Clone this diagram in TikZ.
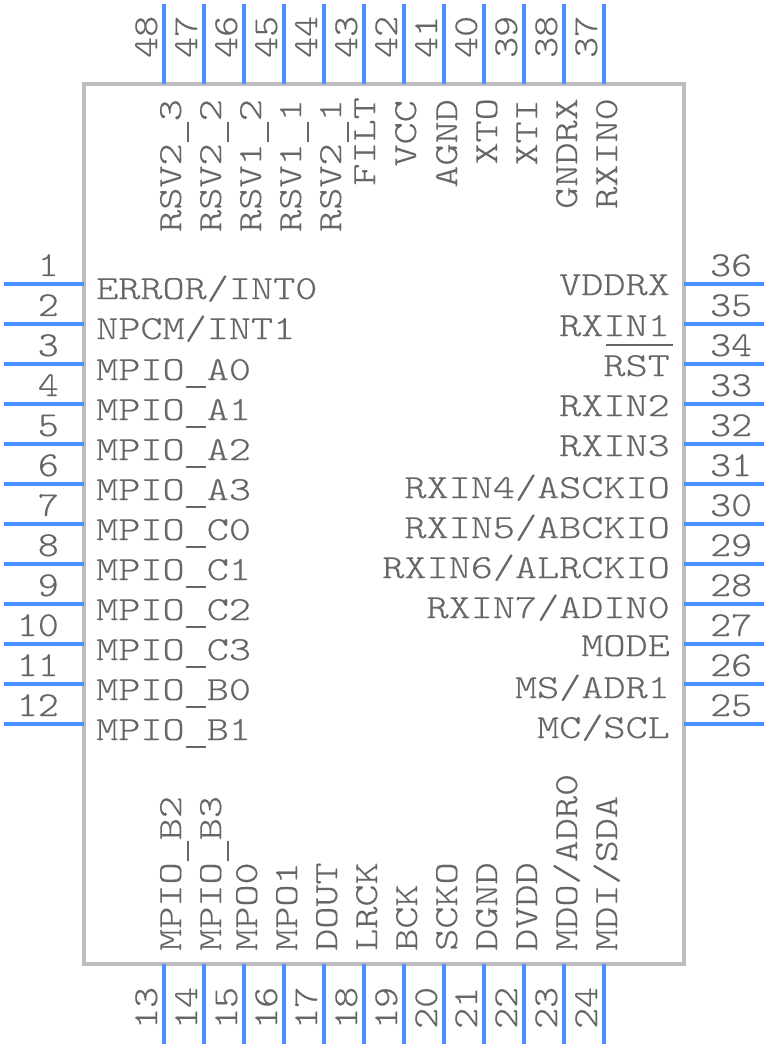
\documentclass[tikz,border=0pt]{standalone}
\usepackage{fontspec}
\newfontfamily\pinfont[FakeStretch=1.25,FakeBold=0.4]{Latin Modern Mono Light}
\newfontfamily\numfont[FakeStretch=1.14,FakeBold=0.4]{Latin Modern Mono Light}
\definecolor{bodygray}{HTML}{BDBDBD}
\definecolor{pinblue}{HTML}{4A90FF}
\definecolor{textgray}{HTML}{666666}
\newcommand\pinslash{/}
\newcommand\pinus{\makebox[22.1pt][c]{\rule[-7.5pt]{20pt}{1.7pt}}}
\tikzset{
  pinline/.style={draw=pinblue,line width=4pt},
  lbl/.style={inner sep=0pt,text=textgray,font=\pinfont\fontsize{33.7}{33.7}\selectfont},
  num/.style={inner sep=0pt,text=textgray,font=\numfont\fontsize{35}{35}\selectfont},
}
\begin{document}
\begin{tikzpicture}[x=1pt,y=-1pt]
\useasboundingbox (0,0) rectangle (768,1048);
\node[draw=bodygray,line width=4pt,minimum width=600pt,minimum height=880pt,inner sep=0pt,outer sep=0pt,anchor=north west] (chip) at (84,84) {};
% left pins
\foreach \n/\t/\b [count=\i from 0] in {1/ERROR\pinslash INT0/299,2/NPCM\pinslash INT1/339,3/MPIO\pinus A0/380,4/MPIO\pinus A1/420,5/MPIO\pinus A2/460,6/MPIO\pinus A3/500,7/MPIO\pinus C0/540,8/MPIO\pinus C1/580,9/MPIO\pinus C2/620,10/MPIO\pinus C3/660,11/MPIO\pinus B0/700,12/MPIO\pinus B1/740}{
  \pgfmathsetmacro\yy{284+40*\i}
  \coordinate (p\n) at (4,\yy);
  \coordinate (e\n) at (84,\yy);
  \draw[pinline] (p\n) -- (e\n);
  \node[num,anchor=base east] (n\n) at (59,\yy-8) {\n};
  \node[lbl,anchor=base west] (t\n) at (96,\b) {\t};
}
% right pins
\foreach \n/\t/\b [count=\i from 0] in {36/VDDRX/295,35/RXIN1/336,34/RST/376,33/RXIN2/416,32/RXIN3/456,31/RXIN4\pinslash ASCKIO/498,30/RXIN5\pinslash ABCKIO/538,29/RXIN6\pinslash ALRCKIO/578,28/RXIN7\pinslash ADIN0/618,27/MODE/656,26/MS\pinslash ADR1/698,25/MC\pinslash SCL/738}{
  \pgfmathsetmacro\yy{284+40*\i}
  \coordinate (p\n) at (764,\yy);
  \coordinate (e\n) at (684,\yy);
  \draw[pinline] (p\n) -- (e\n);
  \node[num,anchor=base west] (n\n) at (710,\yy-8) {\n};
  \node[lbl,anchor=base east] (t\n) at (670,\b) {\t};
}
\coordinate (ovl) at (606,345);
\coordinate (ovr) at (673,345);
\draw[textgray,line width=1.8pt] (ovl) -- (ovr);
% top pins
\foreach \n/\t/\b/\c [count=\i from 0] in {48/RSV2\pinus 3/181/99,47/RSV2\pinus 2/221/99,46/RSV1\pinus 2/261/99,45/RSV1\pinus 1/301/99,44/RSV2\pinus 1/341/99,43/FILT/375/97,42/VCC/416/100,41/AGND/457/99,40/XTO/497/98,39/XTI/537/99,38/GNDRX/577/98,37/RXIN0/617/98}{
  \pgfmathsetmacro\xx{164+40*\i}
  \coordinate (p\n) at (\xx,4);
  \coordinate (e\n) at (\xx,84);
  \draw[pinline] (p\n) -- (e\n);
  \node[num,anchor=base west,rotate=90] (n\n) at (\xx-7,58) {\n};
  \node[lbl,anchor=base east,rotate=90] (t\n) at (\b,\c) {\t};
}
% bottom pins
\foreach \n/\t/\b [count=\i from 0] in {13/MPIO\pinus B2/181,14/MPIO\pinus B3/221,15/MPO0/257,16/MPO1/297,17/DOUT/337,18/LRCK/377,19/BCK/417,20/SCKO/457,21/DGND/497,22/DVDD/537,23/MDO\pinslash ADR0/577,24/MDI\pinslash SDA/617}{
  \pgfmathsetmacro\xx{164+40*\i}
  \coordinate (p\n) at (\xx,1044);
  \coordinate (e\n) at (\xx,964);
  \draw[pinline] (p\n) -- (e\n);
  \node[num,anchor=base west,rotate=90] (n\n) at (\xx-7,1029) {\n};
  \node[lbl,anchor=base west,rotate=90] (t\n) at (\b,951) {\t};
}
\end{tikzpicture}
\end{document}
